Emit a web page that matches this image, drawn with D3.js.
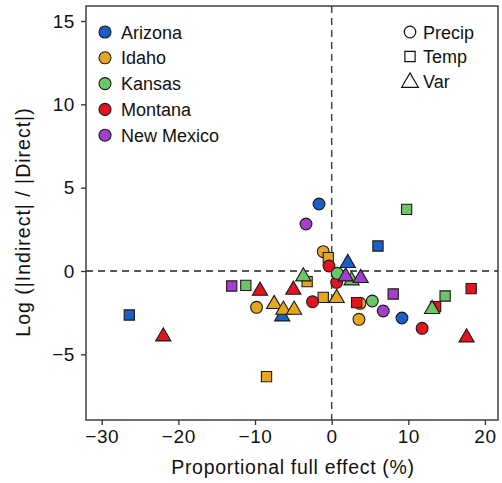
<!DOCTYPE html>
<html>
<head>
<meta charset="utf-8">
<script src="https://cdn.jsdelivr.net/npm/d3@7"></script>
<style>
  body { margin: 0; background: #fff; }
  svg text { font-family: "Liberation Sans", Arial, sans-serif; fill: #111; }
</style>
</head>
<body>
<div id="chart"></div>
<script>
// states and their colours
var states = ["Arizona", "Idaho", "Kansas", "Montana", "New Mexico"];
var stateColors = ["#1a5fc4", "#e8a61e", "#6cc567", "#e3141f", "#a43fcb"];
var shapes = ["Precip", "Temp", "Var"];

// points: [x (%), y (log ratio), shape]
var arizona = [[-1.65, 4.02, "Precip"], [6.04, 1.5, "Temp"], [2.1, 0.56, "Var"], [9.17, -2.82, "Precip"], [-26.4, -2.64, "Temp"], [-6.45, -2.64, "Var"]];
var idaho = [[-1.1, 1.16, "Precip"], [-0.44, 0.8, "Temp"], [-3.2, -0.64, "Temp"], [-1.1, -1.58, "Temp"], [0.65, -1.54, "Var"], [3.56, -2.9, "Precip"], [3.7, -1.94, "Precip"], [-9.8, -2.18, "Precip"], [-7.5, -1.9, "Var"], [-6.3, -2.24, "Var"], [-4.9, -2.24, "Var"], [-8.5, -6.34, "Temp"]];
var kansas = [[9.78, 3.7, "Temp"], [-3.7, -0.24, "Var"], [0.73, -0.14, "Precip"], [2.6, -0.48, "Var"], [5.3, -1.8, "Precip"], [14.8, -1.5, "Temp"], [13.1, -2.2, "Var"], [-11.2, -0.86, "Temp"]];
var montana = [[-0.35, 0.3, "Precip"], [0.65, -0.68, "Precip"], [-2.5, -1.84, "Precip"], [3.26, -1.9, "Temp"], [-9.35, -1.1, "Var"], [-5.0, -1.04, "Var"], [-21.97, -3.84, "Var"], [11.8, -3.44, "Precip"], [18.2, -1.06, "Temp"], [17.6, -3.9, "Var"], [13.56, -2.14, "Temp"]];
var newMexico = [[-3.35, 2.82, "Precip"], [1.83, -0.24, "Var"], [3.78, -0.34, "Var"], [8.03, -1.38, "Temp"], [6.73, -2.4, "Precip"], [-13.04, -0.9, "Temp"]];
var xTicks = [-30, -20, -10, 0, 10, 20];
var yTicks = [-5, 0, 5, 10, 15];

var W = 502, H = 483;
var pLeft = 86, pRight = 498, pTop = 6, pBottom = 420;

var svg = d3.select("#chart").append("svg")
  .attr("width", W)
  .attr("height", H);

var x = d3.scaleLinear().domain([-32.05, 21.7]).range([pLeft, pRight]);
var y = d3.scaleLinear().domain([-8.94, 15.9]).range([pBottom, pTop]);

function minus(d) { return d < 0 ? "\u2212" + Math.abs(d) : d; }

// zero lines
svg.append("line")
  .attr("x1", x(0)).attr("x2", x(0)).attr("y1", pTop).attr("y2", pBottom)
  .attr("stroke", "#444").attr("stroke-width", 1.5).attr("stroke-dasharray", "7,5");
svg.append("line")
  .attr("x1", pLeft).attr("x2", pRight).attr("y1", y(0)).attr("y2", y(0))
  .attr("stroke", "#222").attr("stroke-width", 1.5).attr("stroke-dasharray", "7,5");

// axes
var xAxis = svg.append("g")
  .attr("transform", "translate(0," + pBottom + ")")
  .call(d3.axisBottom(x).tickValues(xTicks).tickSize(5).tickPadding(5).tickFormat(minus));
var yAxis = svg.append("g")
  .attr("transform", "translate(" + pLeft + ",0)")
  .call(d3.axisLeft(y).tickValues(yTicks).tickSize(5).tickPadding(6).tickFormat(minus));
[xAxis, yAxis].forEach(function(a) {
  a.select(".domain").remove();
  a.selectAll("line").attr("stroke", "#333").attr("stroke-width", 1.3);
  a.selectAll("text").style("font-size", "19px").style("letter-spacing", "0.6px")
    .style("font-family", "Liberation Sans, Arial, sans-serif").attr("fill", "#111");
});

// frame
svg.append("rect")
  .attr("x", pLeft).attr("y", pTop)
  .attr("width", pRight - pLeft).attr("height", pBottom - pTop)
  .attr("fill", "none").attr("stroke", "#333").attr("stroke-width", 1.4);

// axis titles
svg.append("text")
  .attr("x", 293).attr("y", 474)
  .attr("text-anchor", "middle")
  .style("font-size", "19.5px").style("letter-spacing", "0.7px")
  .text("Proportional full effect (%)");
svg.append("text")
  .attr("transform", "translate(30,222) rotate(-90)")
  .attr("text-anchor", "middle")
  .style("font-size", "19.5px").style("letter-spacing", "1px")
  .text("Log (|Indirect| / |Direct|)");

var symbolFor = {
  Precip: d3.symbol().type(d3.symbolCircle).size(110),
  Temp: d3.symbol().type(d3.symbolSquare).size(105),
  Var: d3.symbol().type(d3.symbolTriangle).size(100)
};

function drawSeries(rows, color) {
  svg.append("g").selectAll("path")
    .data(rows)
    .enter().append("path")
    .attr("d", function(d) { return symbolFor[d[2]](); })
    .attr("transform", function(d) {
      var dy = d[2] == "Var" ? 1.5 : 0;
      return "translate(" + x(d[0]) + "," + (y(d[1]) + dy) + ")";
    })
    .attr("fill", color)
    .attr("stroke", "#1a1a1a")
    .attr("stroke-width", 1.1);
}

drawSeries(arizona, stateColors[0]);
drawSeries(idaho, stateColors[1]);
drawSeries(montana, stateColors[3]);
drawSeries(kansas, stateColors[2]);
drawSeries(newMexico, stateColors[4]);

// state legend
var leg = svg.append("g");
states.forEach(function(s, i) {
  var ly = 32 + i * 25.8;
  leg.append("circle").attr("cx", 105).attr("cy", ly).attr("r", 6)
    .attr("fill", stateColors[i]).attr("stroke", "#1a1a1a").attr("stroke-width", 1.1);
  leg.append("text").attr("x", 121).attr("y", ly + 6.5).style("font-size", "18px").text(s);
});

// shape legend
shapes.forEach(function(s, i) {
  var ly = 32 + i * 24.5;
  svg.append("path")
    .attr("d", d3.symbol().type([d3.symbolCircle, d3.symbolSquare, d3.symbolTriangle][i]).size(i == 2 ? 120 : 105)())
    .attr("transform", "translate(410," + (ly + (i == 2 ? 1.5 : 0)) + ")")
    .attr("fill", "none").attr("stroke", "#111").attr("stroke-width", 1.2);
  svg.append("text").attr("x", 423).attr("y", ly + 6.5).style("font-size", "18px").text(s);
});
</script>
</body>
</html>
